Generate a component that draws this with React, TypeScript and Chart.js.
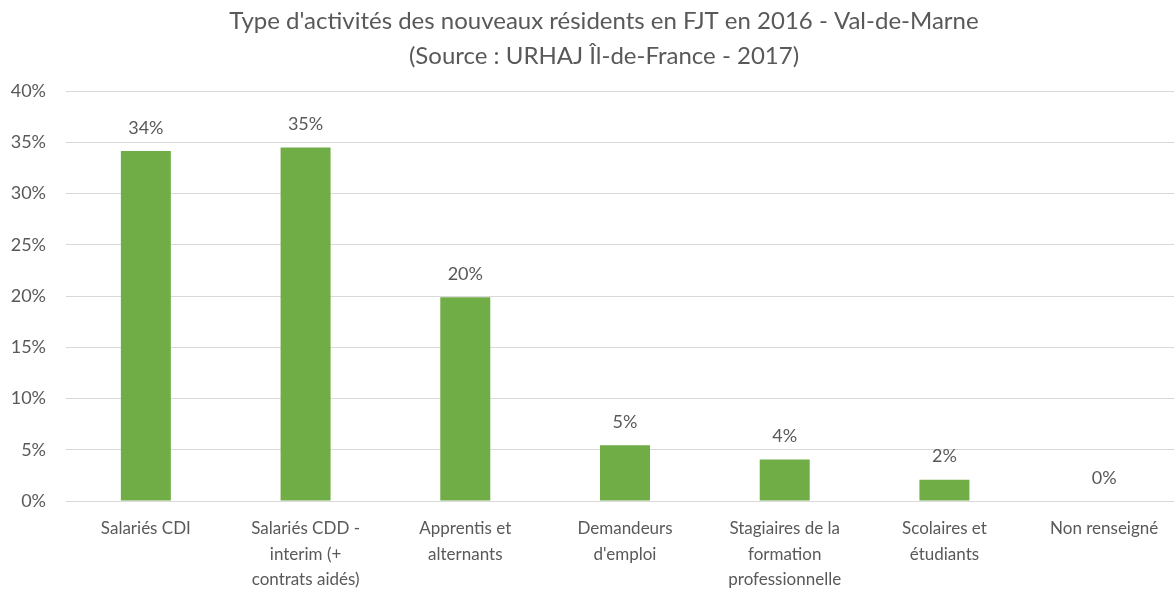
import React, { useEffect, useRef } from "react";
import { Chart, registerables } from "chart.js";

Chart.register(...registerables);

const titleLines = [
  "Type d'activités des nouveaux résidents en FJT en 2016 - Val-de-Marne",
  "(Source : URHAJ Îl-de-France - 2017)",
];

const categories: string[][] = [
  ["Salariés CDI"],
  ["Salariés CDD -", "interim (+", "contrats aidés)"],
  ["Apprentis et", "alternants"],
  ["Demandeurs", "d'emploi"],
  ["Stagiaires de la", "formation", "professionnelle"],
  ["Scolaires et", "étudiants"],
  ["Non renseigné"],
];

const values = [34.15, 34.5, 19.88, 5.45, 4.06, 2.08, 0];

const yMin = 0;
const yMax = 40;
const yStep = 5;

const FONT = "Lato, 'Open Sans', sans-serif";
const TEXT = "#595959";
const GREEN = "#70AD47";
const GRID = "#D9D9D9";

const dataLabels = {
  id: "dataLabels",
  afterDatasetsDraw(chart: any) {
    const ctx = chart.ctx;
    const meta = chart.getDatasetMeta(0);
    ctx.save();
    ctx.font = `18px ${FONT}`;
    ctx.fillStyle = TEXT;
    ctx.textAlign = "center";
    ctx.textBaseline = "middle";
    meta.data.forEach((el: any, i: number) => {
      const v = values[i];
      ctx.fillText(Math.round(v) + "%", el.x, el.y - 23);
    });
    ctx.restore();
  },
};

const titleDraw = {
  id: "titleDraw",
  afterDraw(chart: any) {
    const ctx = chart.ctx;
    ctx.save();
    ctx.font = `24px ${FONT}`;
    ctx.fillStyle = TEXT;
    ctx.textAlign = "center";
    ctx.textBaseline = "middle";
    const cx = (chart.chartArea.left + chart.chartArea.right) / 2 - 21;
    titleLines.forEach((line, i) => {
      ctx.fillText(line, cx, 21 + i * 35);
    });
    ctx.restore();
  },
};

export default function App() {
  const ref = useRef<HTMLCanvasElement>(null);
  useEffect(() => {
    if (!ref.current) return;
    const chart = new Chart(ref.current, {
      type: "bar",
      data: {
        labels: categories,
        datasets: [
          {
            data: values,
            backgroundColor: GREEN,
            borderWidth: 0,
            categoryPercentage: 1,
            barPercentage: 0.313,
          },
        ],
      },
      options: {
        animation: false,
        responsive: false,
        maintainAspectRatio: false,
        layout: { padding: { left: 0, right: 26, top: 91, bottom: 0 } },
        plugins: {
          legend: { display: false },
          tooltip: { enabled: false },
          title: { display: false },
        },
        scales: {
          x: {
            grid: { display: false, drawTicks: false },
            border: { display: false },
            ticks: {
              color: TEXT,
              font: { family: FONT, size: 17, lineHeight: 1.5 },
              padding: 15,
              maxRotation: 0,
              autoSkip: false,
            },
            afterFit(scale: any) {
              scale.height = 91;
            },
          },
          y: {
            min: yMin,
            max: yMax,
            grid: { color: GRID, lineWidth: 1, drawTicks: false },
            border: { display: false },
            ticks: {
              stepSize: yStep,
              color: TEXT,
              font: { family: FONT, size: 18 },
              padding: 20,
              callback: (v: any) => v + "%",
            },
            afterFit(scale: any) {
              scale.width = 66;
            },
          },
        },
      },
      plugins: [dataLabels, titleDraw],
    });
    return () => chart.destroy();
  }, []);
  return (
    <div
      style={{
        position: "absolute",
        left: 0,
        top: 0,
        width: 1174,
        height: 592,
        overflow: "hidden",
        background: "#fff",
      }}
    >
      <canvas ref={ref} width={1210} height={592} style={{ display: "block" }} />
    </div>
  );
}
